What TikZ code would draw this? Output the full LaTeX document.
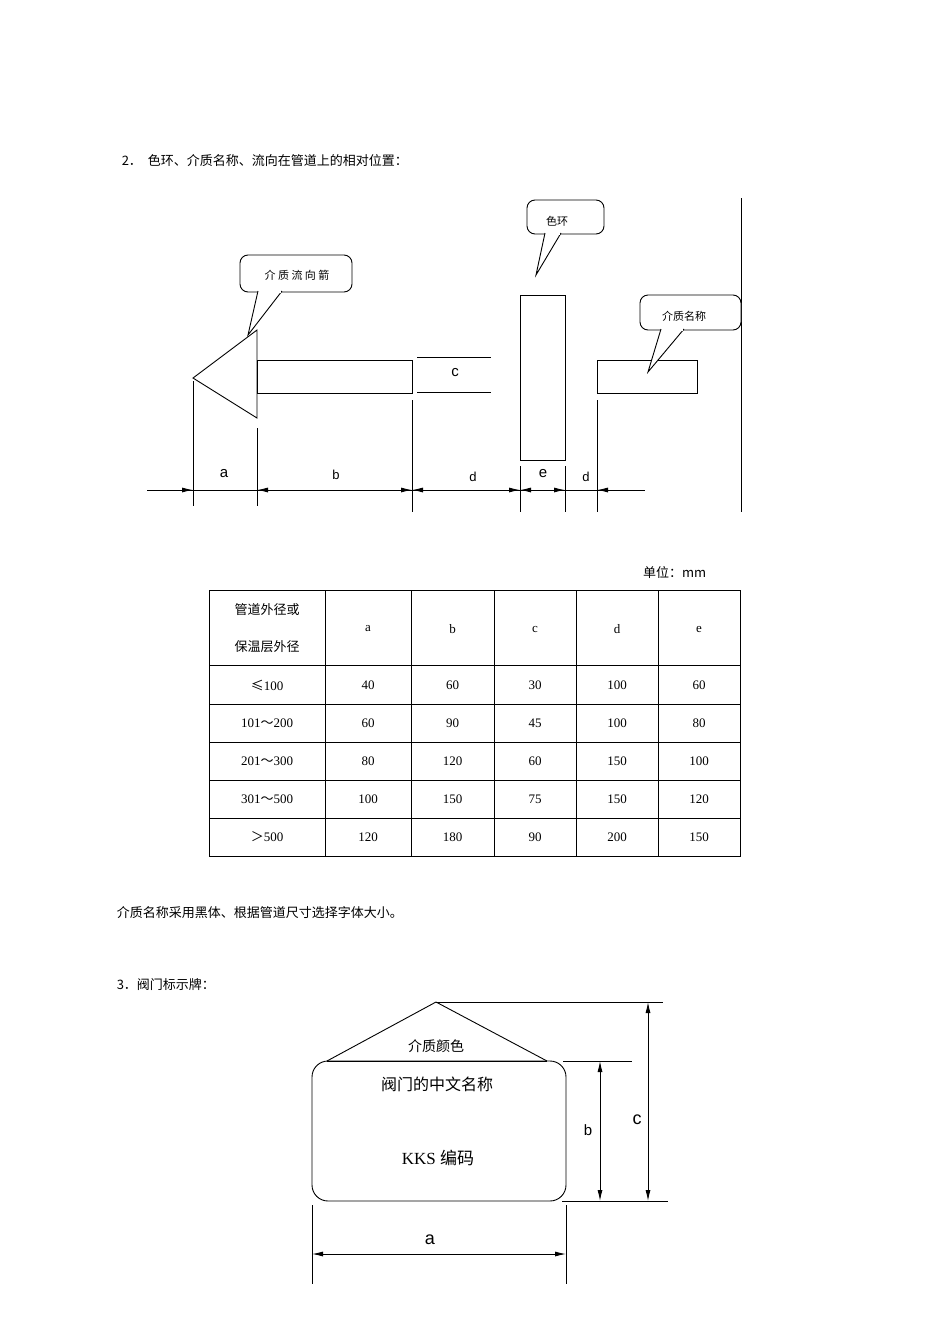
\documentclass[tikz,border=0pt]{standalone}
\usepackage{fontspec}
\setmainfont{Liberation Serif}
\newfontfamily\cjk{Noto Sans CJK SC}
\newfontfamily\lett{Liberation Sans}
\usetikzlibrary{arrows.meta}
\begin{document}
\begin{tikzpicture}[x=1pt,y=-1pt,line width=0.9pt,
  dimtip/.style={-{Latex[length=11pt,width=5pt]}},
  lbl/.style={font=\lett\fontsize{15}{15}\selectfont},
  cn/.style={font=\cjk\fontsize{13}{13}\selectfont},
  small/.style={font=\cjk\fontsize{11}{11}\selectfont},
  cell/.style={font=\fontsize{13}{13}\selectfont},
  bubble/.style={draw,rounded corners=8pt,fill=white}]
\useasboundingbox (0,0) rectangle (950,1344);
% title
\node[cn,anchor=west] (t2) at (118,161) {2．\ \ 色环、介质名称、流向在管道上的相对位置：};
% arrow + pipe
\draw (257,330) -- (193,378) -- (257,418) -- cycle;
\draw (257,360) rectangle (412,393);
\draw (417,357) -- (491,357) (417,392) -- (491,392);
\node[lbl] (lc) at (455,373) {c};
\draw (520,295) rectangle (565,460);
\draw (597,360) rectangle (697,393);
\draw (741,198) -- (741,512);
% extension lines
\draw (193,381) -- (193,506);
\draw (257,428) -- (257,506);
\draw (412,400) -- (412,512);
\draw (520,466) -- (520,512);
\draw (565,466) -- (565,512);
\draw (597,400) -- (597,512);
% dimension line
\draw (147,490) -- (645,490);
\draw[dimtip] (160,490) -- (193,490);
\draw[dimtip] (290,490) -- (257,490);
\draw[dimtip] (380,490) -- (412,490);
\draw[dimtip] (445,490) -- (412,490);
\draw[dimtip] (490,490) -- (520,490);
\draw[dimtip] (548,490) -- (520,490);
\draw[dimtip] (540,490) -- (565,490);
\draw[dimtip] (625,490) -- (597,490);
\node[lbl] (la) at (224,474) {a};
\node[lbl,font=\lett\fontsize{13}{13}\selectfont] (lb) at (336,475) {b};
\node[lbl,font=\lett\fontsize{13}{13}\selectfont] (ld) at (473,477) {d};
\node[lbl] (le) at (543,474) {e};
\node[lbl,font=\lett\fontsize{13}{13}\selectfont] (ld2) at (586,477) {d};
% callouts
\draw[bubble] (240,255) rectangle (352,292);
\draw[fill=white,line width=0.9pt] (258,291) -- (248,335) -- (282,291);
\draw[white,line width=1.5pt] (259.5,292) -- (280.5,292);
\node[small] (c1) at (297,275) {介 质 流 向 箭};
\draw[bubble] (527,200) rectangle (604,234);
\draw[fill=white] (545,233) -- (536,275) -- (561,233);
\draw[white,line width=1.5pt] (546.5,234) -- (559.5,234);
\node[small] (c2) at (557,221) {色环};
\draw[bubble] (640,295) rectangle (741,330);
\draw[fill=white] (661,329) -- (648,372) -- (684,329);
\draw[white,line width=1.5pt] (662.5,330) -- (682.5,330);
\node[small] (c3) at (684,316) {介质名称};
% table
\node[cn,anchor=east] (unit) at (710,572) {单位：mm};
\draw (209,590) rectangle (740,856);
\foreach \x in {325,411,494,576,658} \draw (\x,590) -- (\x,856);
\foreach \y in {665,704,742,780,818} \draw (209,\y) -- (740,\y);
\node[cn] (h1) at (267,610) {管道外径或};
\node[cn] (h2) at (267,647) {保温层外径};
\foreach \t [count=\i] in {a,b,c,d,e}{
  \pgfmathsetmacro\cx{{368,452.5,535,617,699}[\i-1]}
  \node[cell] at (\cx,629) {\t};}
\def\rowA{{"40","60","30","100","60"}}
\foreach \y/\f/\r in {685/{\cjk ≤}100/{40,60,30,100,60},
                       723/101{\cjk ～}200/{60,90,45,100,80},
                       761/201{\cjk ～}300/{80,120,60,150,100},
                       799/301{\cjk ～}500/{100,150,75,150,120},
                       837/{\cjk ＞}500/{120,180,90,200,150}}{
  \node[cell] at (267,\y) {\f};
  \foreach \v [count=\i] in \r {
    \pgfmathsetmacro\cx{{368,452.5,535,617,699}[\i-1]}
    \node[cell] at (\cx,\y) {\v};}}
\node[cn,anchor=west] (note) at (113,913) {介质名称采用黑体、根据管道尺寸选择字体大小。};
\node[cn,anchor=west] (t3) at (113,985) {3．阀门标示牌：};
% valve plate
\draw (327,1061) -- (436,1002) -- (547,1061);
\draw (327,1061) -- (547,1061);
\draw[rounded corners=16pt] (312,1061) rectangle (566,1201);
\node[cn,font=\cjk\fontsize{14}{14}\selectfont] (m) at (436,1046) {介质颜色};
\node[cn,font=\cjk\fontsize{16}{16}\selectfont] (n) at (437,1084) {阀门的中文名称};
\node[font=\fontsize{17}{17}\selectfont] (k) at (438,1158) {KKS {\cjk 编码}};
\draw (436,1002) -- (663,1002);
\draw (563,1061) -- (632,1061);
\draw (562,1201) -- (668,1201);
\draw[{Latex[length=11pt,width=5pt]}-{Latex[length=11pt,width=5pt]}] (600,1061) -- (600,1201);
\draw[{Latex[length=11pt,width=5pt]}-{Latex[length=11pt,width=5pt]}] (648,1002) -- (648,1201);
\node[lbl] (bb) at (588,1130) {b};
\node[lbl,font=\lett\fontsize{18}{18}\selectfont] (cc) at (637,1120) {c};
\draw (312,1205) -- (312,1284);
\draw (566,1205) -- (566,1284);
\draw[{Latex[length=11pt,width=5pt]}-{Latex[length=11pt,width=5pt]}] (312,1254) -- (566,1254);
\node[lbl,font=\lett\fontsize{18}{18}\selectfont] (aa) at (430,1240) {a};
\end{tikzpicture}
\end{document}
